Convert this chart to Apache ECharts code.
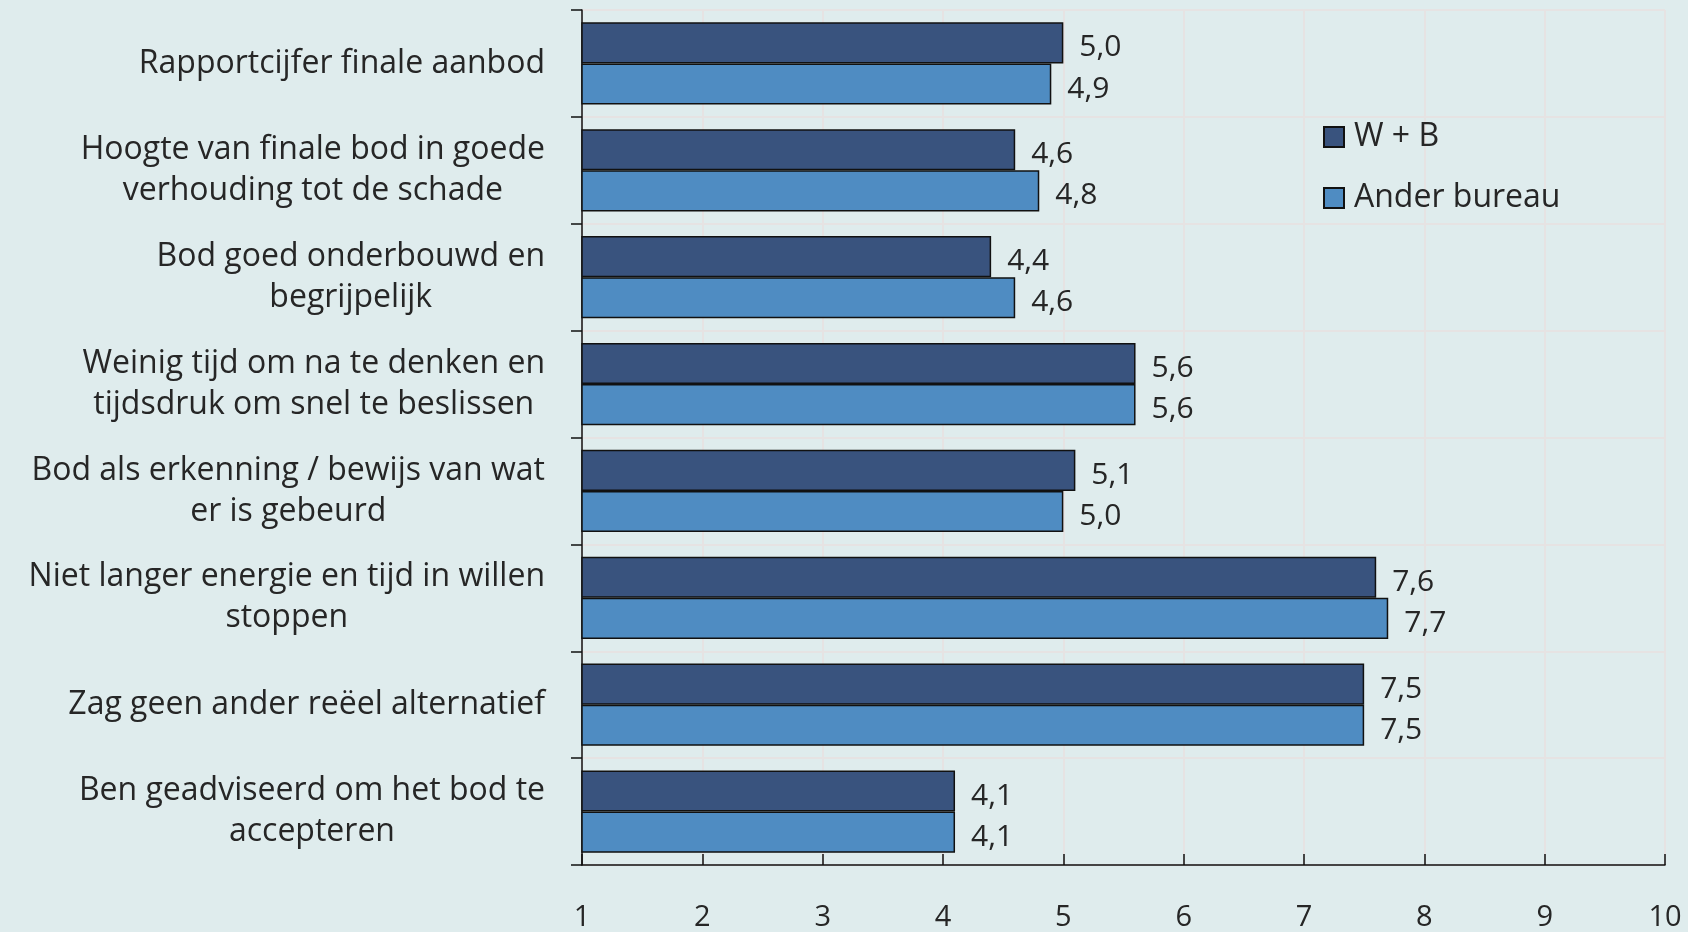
<!DOCTYPE html>
<html>
<head>
<meta charset="utf-8">
<title>Redenen om het finale aanbod te accepteren</title>
<script src="https://cdn.jsdelivr.net/npm/echarts@6/dist/echarts.min.js"></script>
<style>
  html, body { margin: 0; padding: 0; background: #dfeced; }
  #chart { width: 1688px; height: 932px; }
</style>
</head>
<body>
<div id="chart"></div>
<script>
// Categories (top to bottom), with manual line breaks
const categories = [
  'Rapportcijfer finale aanbod',
  'Hoogte van finale bod in goede\nverhouding tot de schade',
  'Bod goed onderbouwd en\nbegrijpelijk',
  'Weinig tijd om na te denken en\ntijdsdruk om snel te beslissen',
  'Bod als erkenning / bewijs van wat\ner is gebeurd',
  'Niet langer energie en tijd in willen\nstoppen',
  'Zag geen ander reëel alternatief',
  'Ben geadviseerd om het bod te\naccepteren'
];

const seriesNames = ['W + B', 'Ander bureau'];
const valuesWB = [5.0, 4.6, 4.4, 5.6, 5.1, 7.6, 7.5, 4.1];
const valuesAnder = [4.9, 4.8, 4.6, 5.6, 5.0, 7.7, 7.5, 4.1];

const xMin = 1;
const xMax = 10;
const xInterval = 1;

const FONT = '"Open Sans", sans-serif';
const TEXT = '#262626';
const GRID_LINE = '#e6e3e3';

const chart = echarts.init(document.getElementById('chart'), null, { renderer: 'canvas' });

function valueLabel() {
  return {
    show: true,
    position: 'right',
    distance: 16,
    offset: [0, 5],
    fontFamily: FONT,
    fontSize: 30,
    color: TEXT,
    formatter: p => p.value.toFixed(1).replace('.', ',')
  };
}

const option = {
  backgroundColor: '#dfeced',
  animation: false,
  grid: { left: 582, right: 23, top: 10, bottom: 66, containLabel: false },
  legend: {
    orient: 'vertical',
    left: 1318,
    top: 116,
    itemWidth: 20,
    itemHeight: 20,
    itemGap: 29,
    icon: 'rect',
    textStyle: {
      fontFamily: FONT,
      fontSize: 32,
      lineHeight: 32,
      color: TEXT,
      padding: [0, 0, 0, 5]
    },
    data: seriesNames
  },
  xAxis: {
    type: 'value',
    min: xMin,
    max: xMax,
    interval: xInterval,
    axisLine: { show: true, lineStyle: { color: '#111', width: 1.5 } },
    axisTick: { show: true, inside: true, length: 11, lineStyle: { color: '#111', width: 1.5 } },
    axisLabel: { margin: 38, fontFamily: FONT, fontSize: 29, color: TEXT },
    splitLine: { show: true, lineStyle: { color: GRID_LINE, width: 2 } }
  },
  yAxis: {
    type: 'category',
    inverse: true,
    data: categories,
    axisLine: { show: true, lineStyle: { color: '#111', width: 1.5 } },
    axisTick: { show: true, length: 11, lineStyle: { color: '#111', width: 1.5 } },
    splitLine: { show: true, lineStyle: { color: GRID_LINE, width: 2 } },
    axisLabel: {
      margin: 37,
      align: 'right',
      formatter: v => v.split('\n').map(l => '{c|' + l + '}').join('\n'),
      rich: {
        c: { align: 'center', fontFamily: FONT, fontSize: 32, lineHeight: 41, color: TEXT }
      }
    }
  },
  series: [
    {
      name: seriesNames[0],
      type: 'bar',
      data: valuesWB,
      barGap: '0%',
      barCategoryGap: '23%',
      itemStyle: { color: '#39537e', borderColor: '#111', borderWidth: 1.5 },
      label: valueLabel()
    },
    {
      name: seriesNames[1],
      type: 'bar',
      data: valuesAnder,
      barGap: '0%',
      barCategoryGap: '23%',
      itemStyle: { color: '#4f8cc2', borderColor: '#111', borderWidth: 1.5 },
      label: valueLabel()
    }
  ]
};

chart.setOption(option);
</script>
</body>
</html>
